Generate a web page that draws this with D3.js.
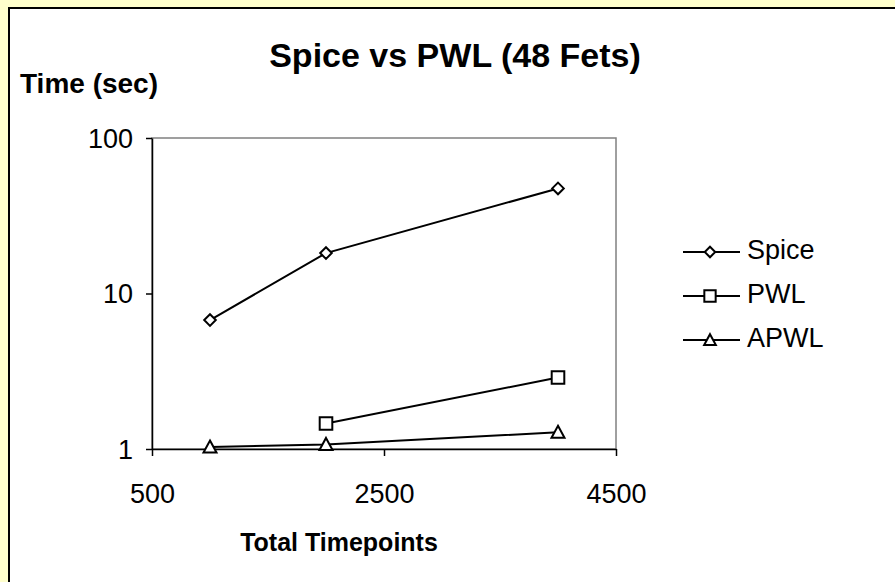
<!DOCTYPE html>
<html>
<head>
<meta charset="utf-8">
<script src="https://cdn.jsdelivr.net/npm/d3@7"></script>
<style>
  html, body { margin: 0; padding: 0; background: #FFFFCC; }
  svg { display: block; font-family: Arial, "Liberation Sans", sans-serif; }
</style>
</head>
<body>
<script>
// Timing comparison: Spice vs piecewise-linear simulators (48 FETs)
const timepoints = [1000, 2000, 4000];
const spiceTimes = [6.75, 18.2, 47.4];
const pwlPoints = [2000, 4000];
const pwlTimes = [1.46, 2.88];
const apwlTimes = [1.03, 1.07, 1.28];
const xTicks = [500, 2500, 4500];
const yTicks = [1, 10, 100];
const seriesNames = ["Spice", "PWL", "APWL"];
const markerTypes = ["diamond", "square", "triangle"];

const series = [
  { name: seriesNames[0], marker: markerTypes[0], pts: timepoints.map((x, i) => [x, spiceTimes[i]]) },
  { name: seriesNames[1], marker: markerTypes[1], pts: pwlPoints.map((x, i) => [x, pwlTimes[i]]) },
  { name: seriesNames[2], marker: markerTypes[2], pts: timepoints.map((x, i) => [x, apwlTimes[i]]) }
];

const W = 895, H = 582;
const FONT = "Arial, 'Liberation Sans', sans-serif";
const svg = d3.select("body").append("svg").attr("width", W).attr("height", H);

// chart frame (runs past the right and bottom edges)
svg.append("rect").attr("x", 0).attr("y", 0).attr("width", W).attr("height", H).attr("fill", "#FFFFCC");
svg.append("rect").attr("x", 9).attr("y", 8).attr("width", W + 20).attr("height", H + 20)
  .attr("fill", "#fff").attr("stroke", "#000").attr("stroke-width", 2);

const plot = { left: 152, top: 138, right: 616, bottom: 449 };
const x = d3.scaleLinear().domain([500, 4500]).range([plot.left, plot.right]);
const y = d3.scaleLog().domain([1, 100]).range([plot.bottom, plot.top]);

// plot area border
svg.append("rect").attr("x", plot.left).attr("y", plot.top)
  .attr("width", plot.right - plot.left).attr("height", plot.bottom - plot.top)
  .attr("fill", "#fff").attr("stroke", "#808080").attr("stroke-width", 1.5);

// axes
const xAxis = d3.axisBottom(x).tickValues(xTicks).tickFormat(d3.format("d"))
  .tickSizeOuter(0).tickSizeInner(7).tickPadding(28);
const yAxis = d3.axisLeft(y).tickValues(yTicks).tickFormat(d3.format("d"))
  .tickSizeOuter(0).tickSizeInner(6).tickPadding(13);

const gx = svg.append("g").attr("transform", `translate(0,${plot.bottom})`).call(xAxis);
const gy = svg.append("g").attr("transform", `translate(${plot.left},0)`).call(yAxis);
[gx, gy].forEach(g => {
  g.select(".domain").attr("stroke", "#000").attr("stroke-width", 1.5);
  g.selectAll(".tick line").attr("stroke", "#000").attr("stroke-width", 1.5);
  g.selectAll(".tick text").attr("font-size", 27).attr("fill", "#000").attr("font-family", FONT);
});
gy.selectAll(".tick text").attr("dy", "0.35em");

// marker shapes
function markerPath(type, k = 1) {
  if (type === "diamond") return `M0,${-5.8 * k}L${5.8 * k},0L0,${5.8 * k}L${-5.8 * k},0Z`;
  if (type === "square") return `M${-6.3 * k},${-6.3 * k}H${6.3 * k}V${6.3 * k}H${-6.3 * k}Z`;
  return `M0,${-6.5 * k}L${6.5 * k},${5.5 * k}H${-6.5 * k}Z`;
}

const line = d3.line().x(d => x(d[0])).y(d => y(d[1]));

series.forEach(s => {
  svg.append("path").attr("d", line(s.pts)).attr("fill", "none")
    .attr("stroke", "#000").attr("stroke-width", 2);
  svg.selectAll(null).data(s.pts).enter().append("path")
    .attr("transform", d => `translate(${x(d[0])},${y(d[1])})`)
    .attr("d", markerPath(s.marker))
    .attr("fill", "#fff").attr("stroke", "#000").attr("stroke-width", 2);
});

// legend
const legend = svg.append("g").attr("transform", "translate(683,252)");
series.forEach((s, i) => {
  const g = legend.append("g").attr("transform", `translate(0,${i * 44})`);
  g.append("line").attr("x1", 0).attr("x2", 57).attr("y1", 0).attr("y2", 0)
    .attr("stroke", "#000").attr("stroke-width", 2);
  g.append("path").attr("transform", "translate(27,0)").attr("d", markerPath(s.marker, 0.9))
    .attr("fill", "#fff").attr("stroke", "#000").attr("stroke-width", 2);
  g.append("text").attr("x", 64).attr("y", 7)
    .attr("font-size", 27).text(s.name);
});

// titles
svg.append("text").attr("x", 455).attr("y", 67).attr("text-anchor", "middle")
  .attr("font-size", 34).attr("font-weight", "bold").text("Spice vs PWL (48 Fets)");
svg.append("text").attr("x", 20).attr("y", 93)
  .attr("font-size", 28).attr("font-weight", "bold").text("Time (sec)");
svg.append("text").attr("x", 339).attr("y", 551).attr("text-anchor", "middle")
  .attr("font-size", 25).attr("font-weight", "bold").text("Total Timepoints");
</script>
</body>
</html>
